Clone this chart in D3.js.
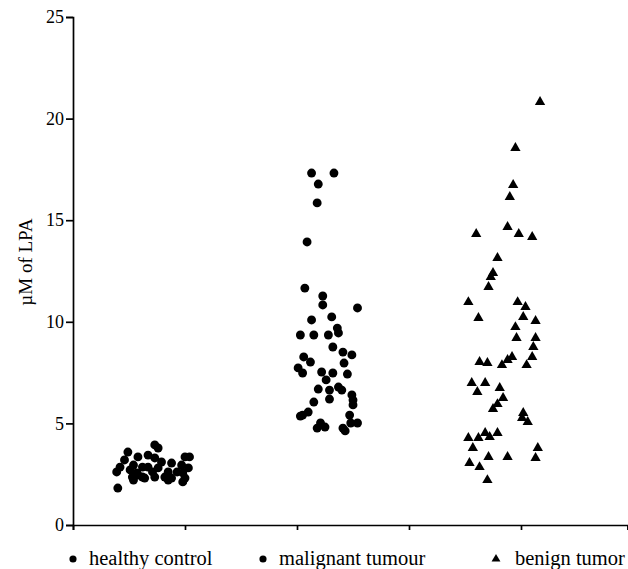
<!DOCTYPE html>
<html>
<head>
<meta charset="utf-8">
<script src="https://cdn.jsdelivr.net/npm/d3@7"></script>
<style>
  body { margin: 0; background: #fff; }
  svg text { font-family: "Liberation Serif", "Times New Roman", serif !important; fill: #000; }
</style>
</head>
<body>
<div id="chart"></div>
<script>
// groups shown in the legend
var groups = ["healthy control", "malignant tumour", "benign tumor"];
var yTicks = [0, 5, 10, 15, 20, 25];
var xTicks = [0, 1, 2, 3, 4];

// [jittered x position, LPA in uM]
var healthy = [
  [0.40,1.82],[0.73,3.94],[0.76,3.79],[0.49,3.59],[0.58,3.35],[0.67,3.44],[1.00,3.35],[1.04,3.35],
  [0.46,3.20],[0.73,3.30],[0.79,3.10],[0.88,3.05],[0.97,2.95],[0.42,2.85],[0.54,2.95],[0.62,2.85],
  [0.67,2.85],[0.76,2.81],[1.03,2.81],[0.39,2.61],[0.51,2.71],[0.57,2.56],[0.71,2.61],[0.85,2.61],
  [0.93,2.61],[0.98,2.56],[0.53,2.36],[0.62,2.36],[0.73,2.36],[0.82,2.36],[0.88,2.31],[1.00,2.31],
  [0.54,2.21],[0.64,2.31],[0.98,2.12],[0.85,2.21],[0.58,2.46]
];
var malignant = [
  [2.13,17.32],[2.33,17.32],[2.19,16.78],[2.18,15.85],[2.09,13.93],[2.07,11.66],[2.23,11.27],[2.23,10.83],
  [2.54,10.68],[2.13,10.09],[2.31,10.24],[2.36,9.69],[2.03,9.35],[2.15,9.35],[2.28,9.35],[2.37,9.45],
  [2.32,8.76],[2.41,8.51],[2.49,8.37],[2.06,8.27],[2.12,8.02],[2.42,7.97],[2.01,7.73],[2.05,7.48],
  [2.22,7.53],[2.32,7.48],[2.45,7.43],[2.26,7.14],[2.19,6.69],[2.29,6.64],[2.37,6.79],[2.40,6.64],
  [2.49,6.40],[2.29,6.20],[2.50,6.15],[2.15,6.05],[2.50,5.91],[2.10,5.56],[2.03,5.36],[2.47,5.41],
  [2.21,5.02],[2.48,5.02],[2.18,4.77],[2.25,4.82],[2.41,4.77],[2.54,5.02],[2.43,4.63],[2.05,5.41]
];
var benign = [
  [4.17,20.82],[3.95,18.55],[3.93,16.73],[3.90,16.14],[3.88,14.67],[3.60,14.32],[3.98,14.32],[4.10,14.17],
  [3.79,13.14],[3.75,12.40],[3.73,12.20],[3.71,11.71],[3.53,10.97],[3.97,10.97],[4.04,10.73],[4.02,10.24],
  [3.62,10.19],[4.13,10.04],[3.95,9.74],[3.96,9.20],[4.13,9.20],[4.11,8.76],[4.10,8.27],[3.63,8.02],
  [3.70,7.97],[3.83,7.87],[3.88,8.12],[3.92,8.27],[4.05,7.87],[3.56,6.99],[3.68,6.99],[3.61,6.55],
  [3.81,6.74],[3.84,6.25],[3.79,5.95],[3.75,5.71],[4.02,5.51],[4.06,5.07],[3.53,4.28],[3.62,4.28],
  [3.68,4.53],[3.72,4.33],[3.79,4.53],[3.57,3.79],[4.15,3.79],[3.71,3.35],[3.88,3.35],[4.13,3.30],
  [3.54,3.05],[3.63,2.85],[3.70,2.21],[4.01,5.27]
];

var width = 628, height = 569;
var serif = "'Liberation Serif', 'Times New Roman', serif";

var svg = d3.select("#chart")
  .append("svg")
  .attr("width", width)
  .attr("height", height)

var x = d3.scaleLinear().domain([0, 4.95]).range([73, 627.4])
var y = d3.scaleLinear().domain([0, 25]).range([525, 17])

svg.append("g")
  .attr("transform", "translate(73,0)")
  .call(d3.axisLeft(y).tickValues(yTicks).tickSize(7).tickPadding(2).tickFormat(d3.format("d")))
  .call(function(g) {
    g.attr("font-family", serif)
    g.select(".domain").attr("stroke-width", 1.7)
    g.selectAll(".tick line").attr("stroke-width", 1.7)
    g.selectAll("text").attr("font-size", "18px").style("font-family", serif)
  })

svg.append("g")
  .attr("transform", "translate(0,525)")
  .call(d3.axisBottom(x).tickValues(xTicks).tickSize(5).tickFormat(""))
  .call(function(g) {
    g.select(".domain").attr("stroke-width", 1.7)
    g.selectAll(".tick line").attr("stroke-width", 1.7)
  })

var circle = d3.symbol().type(d3.symbolCircle).size(62)
var tri = d3.symbol().type(d3.symbolTriangle).size(46)

svg.append("g").selectAll("path")
  .data(healthy)
  .enter().append("path")
  .attr("d", circle)
  .attr("transform", function(d) { return "translate(" + x(d[0]) + "," + y(d[1]) + ")" })
  .attr("fill", "#000")

svg.append("g").selectAll("path")
  .data(malignant)
  .enter().append("path")
  .attr("d", circle)
  .attr("transform", function(d) { return "translate(" + x(d[0]) + "," + y(d[1]) + ")" })
  .attr("fill", "#000")

svg.append("g").selectAll("path")
  .data(benign)
  .enter().append("path")
  .attr("d", tri)
  .attr("transform", function(d) { return "translate(" + x(d[0]) + "," + y(d[1]) + ")" })
  .attr("fill", "#000")

// y label
svg.append("text")
  .text("\u00b5M of LPA")
  .attr("transform", "translate(32,262) rotate(-90)")
  .attr("text-anchor", "middle")
  .attr("font-size", "19px")
  .style("font-family", serif)

// legend
var legendX = [73, 263, 496]
var legendSym = [circle, circle, tri]
var leg = svg.append("g").selectAll("g")
  .data(groups)
  .enter().append("g")
  .attr("transform", function(d, i) { return "translate(" + legendX[i] + ",559)" })

leg.append("path")
  .attr("d", function(d, i) { return legendSym[i].size(i == 2 ? 34 : 40)() })
  .attr("fill", "#000")

leg.append("text")
  .text(function(d) { return d })
  .attr("x", function(d, i) { return i == 2 ? 19 : 16 })
  .attr("y", 6)
  .attr("font-size", "20.5px")
  .style("font-family", serif)
</script>
</body>
</html>
